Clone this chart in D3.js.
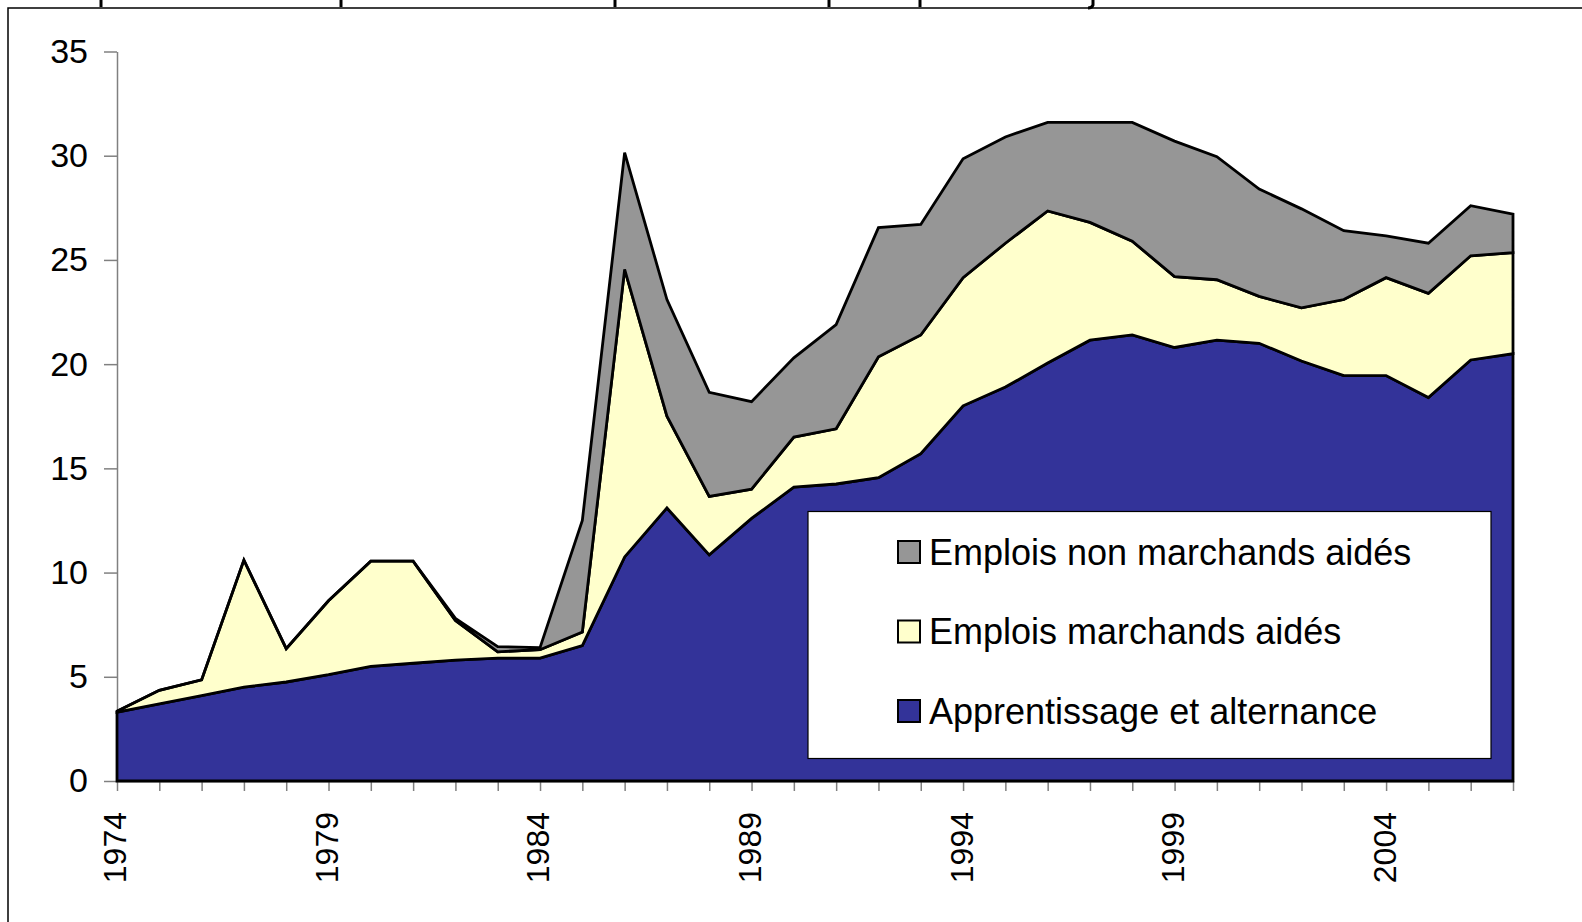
<!DOCTYPE html>
<html>
<head>
<meta charset="utf-8">
<script src="https://cdn.jsdelivr.net/npm/d3@7"></script>
<style>
  html, body { margin: 0; padding: 0; background: #ffffff; }
  svg { display: block; }
  text { font-family: "Liberation Sans", Arial, Helvetica, sans-serif; }
</style>
</head>
<body>
<svg id="chart" width="1582" height="922"></svg>
<script>
// ---- data ----
const years = [1974,1975,1976,1977,1978,1979,1980,1981,1982,1983,1984,1985,1986,1987,1988,1989,1990,
               1991,1992,1993,1994,1995,1996,1997,1998,1999,2000,2001,2002,2003,2004,2005,2006,2007];
const apprentissage = [3.3,3.7,4.1,4.5,4.75,5.1,5.5,5.65,5.8,5.9,5.9,6.5,10.75,13.1,10.85,12.6,14.1,
                       14.25,14.55,15.7,18.0,18.9,20.05,21.15,21.4,20.8,21.15,21.0,20.15,19.45,19.45,18.4,20.2,20.5];
const marchands = [0.05,0.65,0.75,6.1,1.6,3.55,5.05,4.9,1.9,0.3,0.4,0.65,13.8,4.4,2.8,1.4,2.4,
                   2.65,5.8,5.7,6.15,6.9,7.3,5.65,4.5,3.4,2.9,2.25,2.55,3.65,4.7,5.0,5.0,4.85];
const nonMarchands = [0,0,0,0,0,0,0,0,0.1,0.25,0.1,5.35,5.6,5.6,5.0,4.2,3.8,
                      5.0,6.2,5.3,5.7,5.1,4.25,4.8,5.7,6.5,5.9,5.15,4.75,3.3,2.0,2.4,2.4,1.85];
const seriesNames = ["Apprentissage et alternance", "Emplois marchands aidés", "Emplois non marchands aidés"];
const seriesColors = ["#333399", "#FFFFCC", "#969696"];
const yTicks = [0,5,10,15,20,25,30,35];
const xLabelYears = [1974,1979,1984,1989,1994,1999,2004];

// ---- layout ----
const svg = d3.select("#chart");
const x = d3.scaleLinear().domain([1974, 2007]).range([117, 1513]);
const y = d3.scaleLinear().domain([0, 35]).range([781, 51.5]);

// outer frame (partial, as in the reference)
svg.append("path").attr("d", "M8,922 L8,8 L1582,8")
  .attr("fill", "none").attr("stroke", "#000").attr("stroke-width", 1.5);
// clipped remnants of content above the frame
[101, 341, 615, 829, 920].forEach(px => {
  svg.append("line").attr("x1", px).attr("x2", px).attr("y1", 0).attr("y2", 7)
    .attr("stroke", "#000").attr("stroke-width", 3);
});
svg.append("path").attr("d", "M1093,0 L1093,5 Q1092,8 1088,8")
  .attr("fill", "none").attr("stroke", "#000").attr("stroke-width", 3);

// ---- axes ----
const yAxis = d3.axisLeft(y).tickValues(yTicks).tickSize(13).tickSizeOuter(0).tickPadding(16);
const gy = svg.append("g").attr("transform", `translate(${x(1974)},0)`).call(yAxis);
gy.select(".domain").attr("stroke", "#808080").attr("stroke-width", 1.5);
gy.selectAll(".tick line").attr("stroke", "#808080").attr("stroke-width", 1.5);
gy.selectAll(".tick text").attr("fill", "#000")
  .style("font-family", '"Liberation Sans", Arial, sans-serif').style("font-size", "34px");

const xAxis = d3.axisBottom(x).tickValues(years).tickSize(10).tickSizeOuter(0)
  .tickFormat(d => xLabelYears.includes(d) ? String(d) : "");
const gx = svg.append("g").attr("transform", `translate(0,${y(0)})`).call(xAxis);
gx.select(".domain").attr("stroke", "#808080").attr("stroke-width", 1.5);
gx.selectAll(".tick line").attr("stroke", "#808080").attr("stroke-width", 1.5);
gx.selectAll(".tick text")
  .attr("fill", "#000")
  .attr("y", 0).attr("x", -31).attr("dy", "0.28em")
  .attr("transform", "rotate(-90)")
  .attr("text-anchor", "end")
  .style("font-family", '"Liberation Sans", Arial, sans-serif').style("font-size", "32px");

// ---- stacked areas ----
const table = years.map((yr, i) => ({
  year: yr, a: apprentissage[i], m: marchands[i], n: nonMarchands[i]
}));
const stack = d3.stack().keys(["a", "m", "n"]);
const layers = stack(table);
const area = d3.area()
  .x(d => x(d.data.year))
  .y0(d => y(d[0]))
  .y1(d => y(d[1]));

svg.append("g").selectAll("path").data(layers).join("path")
  .attr("d", area)
  .attr("fill", (d, i) => seriesColors[i])
  .attr("stroke", "#000")
  .attr("stroke-width", 2.8)
  .attr("stroke-linejoin", "miter");

// ---- legend ----
const lg = svg.append("g");
lg.append("rect").attr("x", 808).attr("y", 511.5).attr("width", 683).attr("height", 247)
  .attr("fill", "#fff").attr("stroke", "#000").attr("stroke-width", 1.2);
const legendOrder = [2, 1, 0];
legendOrder.forEach((si, k) => {
  const cy = 552 + k * 79.5;
  lg.append("rect").attr("x", 898).attr("y", cy - 11).attr("width", 22).attr("height", 22)
    .attr("fill", seriesColors[si]).attr("stroke", "#000").attr("stroke-width", 2);
  lg.append("text").attr("x", 929).attr("y", cy).attr("dy", "0.35em")
    .attr("fill", "#000").style("font-size", "36px")
    .text(seriesNames[si]);
});
</script>
</body>
</html>
